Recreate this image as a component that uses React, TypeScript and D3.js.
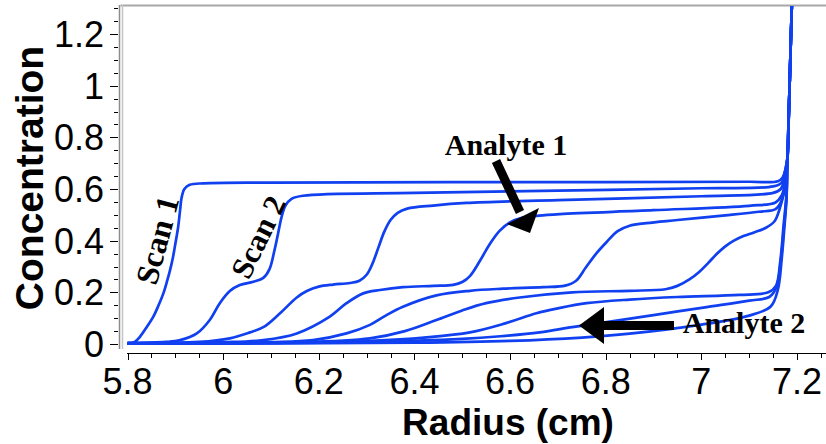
import React from "react";
import * as d3 from "d3";

type Pt = [number, number];

// Scans: [radius (cm), concentration]
const scan1: Pt[] = [[5.800,0.004],[5.815,0.008],[5.826,0.028],[5.840,0.065],[5.854,0.106],[5.865,0.150],[5.875,0.196],[5.883,0.245],[5.889,0.286],[5.895,0.335],[5.899,0.377],[5.906,0.454],[5.910,0.519],[5.913,0.565],[5.919,0.600],[5.930,0.616],[5.960,0.622],[6.100,0.625],[6.800,0.627],[7.100,0.628],[7.160,0.630],[7.170,0.645]];
const scan2: Pt[] = [[5.800,0.004],[5.880,0.008],[5.910,0.015],[5.945,0.041],[5.972,0.093],[5.993,0.158],[6.014,0.205],[6.035,0.228],[6.063,0.241],[6.084,0.256],[6.097,0.290],[6.107,0.360],[6.115,0.429],[6.122,0.490],[6.130,0.535],[6.143,0.562],[6.167,0.574],[6.400,0.585],[6.700,0.594],[7.000,0.603],[7.150,0.610],[7.168,0.625],[7.174,0.660]];
const scan3: Pt[] = [[5.800,0.003],[5.950,0.008],[6.014,0.022],[6.056,0.045],[6.084,0.065],[6.119,0.119],[6.154,0.180],[6.175,0.205],[6.200,0.222],[6.230,0.230],[6.265,0.236],[6.285,0.245],[6.300,0.268],[6.312,0.310],[6.325,0.375],[6.337,0.435],[6.350,0.480],[6.365,0.508],[6.385,0.524],[6.439,0.536],[6.509,0.546],[6.700,0.557],[7.000,0.572],[7.150,0.585],[7.166,0.600],[7.174,0.640]];
const scan4: Pt[] = [[5.800,0.003],[6.000,0.007],[6.084,0.015],[6.154,0.041],[6.223,0.106],[6.258,0.158],[6.293,0.196],[6.328,0.209],[6.376,0.220],[6.440,0.225],[6.481,0.229],[6.500,0.240],[6.516,0.263],[6.537,0.322],[6.558,0.388],[6.578,0.438],[6.599,0.470],[6.625,0.488],[6.660,0.497],[6.704,0.503],[6.900,0.518],[7.100,0.535],[7.155,0.548],[7.168,0.575],[7.175,0.630]];
const scan5: Pt[] = [[5.800,0.002],[6.100,0.007],[6.188,0.015],[6.258,0.041],[6.307,0.074],[6.340,0.110],[6.376,0.144],[6.446,0.188],[6.516,0.206],[6.585,0.214],[6.670,0.220],[6.715,0.226],[6.738,0.245],[6.758,0.295],[6.780,0.350],[6.802,0.395],[6.825,0.437],[6.850,0.458],[6.885,0.468],[6.950,0.480],[7.050,0.498],[7.120,0.512],[7.155,0.522],[7.168,0.555],[7.176,0.620]];
const scan6: Pt[] = [[5.800,0.002],[6.150,0.006],[6.307,0.022],[6.380,0.050],[6.446,0.093],[6.500,0.130],[6.550,0.158],[6.620,0.180],[6.730,0.200],[6.850,0.206],[6.925,0.212],[6.950,0.225],[6.975,0.250],[6.996,0.280],[7.015,0.315],[7.033,0.350],[7.050,0.378],[7.068,0.400],[7.088,0.418],[7.110,0.432],[7.135,0.450],[7.153,0.475],[7.164,0.525],[7.172,0.585],[7.177,0.650]];
const scan7: Pt[] = [[5.800,0.002],[6.200,0.006],[6.307,0.012],[6.420,0.025],[6.516,0.045],[6.590,0.080],[6.655,0.119],[6.700,0.138],[6.760,0.158],[6.850,0.172],[6.950,0.182],[7.080,0.190],[7.140,0.200],[7.156,0.225],[7.165,0.320],[7.172,0.460],[7.178,0.580]];
const scan8: Pt[] = [[5.800,0.001],[6.300,0.008],[6.500,0.020],[6.580,0.030],[6.662,0.045],[6.730,0.065],[6.802,0.085],[6.900,0.112],[7.011,0.143],[7.100,0.168],[7.142,0.182],[7.157,0.220],[7.166,0.320],[7.173,0.460],[7.178,0.570]];
const scan9: Pt[] = [[5.800,0.001],[6.400,0.005],[6.600,0.012],[6.750,0.025],[6.850,0.040],[7.000,0.075],[7.100,0.110],[7.145,0.145],[7.160,0.210],[7.168,0.330],[7.174,0.460],[7.178,0.560]];
// common steep rise at the cell bottom
const wallTail: Pt[] = [[7.180,0.72],[7.183,0.90],[7.186,1.10],[7.189,1.30],[7.191,1.45]];

const scans: Pt[][] = [scan1, scan2, scan3, scan4, scan5, scan6, scan7, scan8, scan9];

const xTicks = [5.8, 6, 6.2, 6.4, 6.6, 6.8, 7, 7.2];
const xTickLabels = ["5.8", "6", "6.2", "6.4", "6.6", "6.8", "7", "7.2"];
const yTicks = [0, 0.2, 0.4, 0.6, 0.8, 1, 1.2];
const yTickLabels = ["0", "0.2", "0.4", "0.6", "0.8", "1", "1.2"];

const W = 826;
const H = 444;
const BLUE = "#1040f0";

export default function App() {
  const x = d3.scaleLinear().domain([5.8, 7.2]).range([127.5, 797]);
  const y = d3.scaleLinear().domain([0, 1.2]).range([344, 34]);
  const line = d3
    .line<Pt>()
    .x((d) => x(d[0]))
    .y((d) => y(d[1]))
    .curve(d3.curveCatmullRom.alpha(0.5));

  const xMinor = d3.range(0, 30).map((i) => 5.8 + i * 0.05).filter((v) => x(v) <= W);
  const yMinor = d3.range(0, 27).map((i) => i * 0.05).filter((v) => y(v) >= 5);

  const plotTop = 5;
  const axisLeft = 119.5;

  return (
    <svg
      width={W}
      height={H}
      style={{ position: "absolute", left: 0, top: 0, background: "#fff" }}
    >
      <defs>
        <clipPath id="plotclip">
          <rect x={axisLeft + 3} y={plotTop + 1} width={W - axisLeft} height={360} />
        </clipPath>
      </defs>
      {/* frame */}
      <line x1={axisLeft + 1} x2={W} y1={plotTop + 0.5} y2={plotTop + 0.5} stroke="#a8a8a8" strokeWidth={2} />
      <line x1={axisLeft} x2={axisLeft} y1={plotTop} y2={349} stroke="#8c8c8c" strokeWidth={1.5} />
      <line x1={axisLeft + 3} x2={axisLeft + 3} y1={plotTop} y2={349} stroke="#c4c4c4" strokeWidth={1.5} />

      {/* y ticks */}
      {yMinor.map((v, i) => (
        <line key={"ym" + i} x1={114} x2={118} y1={Math.round(y(v)) + 0.5} y2={Math.round(y(v)) + 0.5} stroke="#000" strokeWidth={1} />
      ))}
      {yTicks.map((v, i) => (
        <line key={"yM" + i} x1={110} x2={118} y1={Math.round(y(v)) + 0.5} y2={Math.round(y(v)) + 0.5} stroke="#000" strokeWidth={1} />
      ))}
      {yTicks.map((v, i) => (
        <text
          key={"yl" + i}
          x={104}
          y={y(v)}
          dy="0.36em"
          textAnchor="end"
          fontFamily="'Liberation Sans', Arial, sans-serif"
          fontSize={36}
          fill="#000"
        >
          {yTickLabels[i]}
        </text>
      ))}

      {/* x axis */}
      <line x1={127} x2={W} y1={353.5} y2={353.5} stroke="#000" strokeWidth={1.2} />
      {xMinor.map((v, i) => (
        <line key={"xm" + i} x1={Math.round(x(v)) + 0.5} x2={Math.round(x(v)) + 0.5} y1={353} y2={358} stroke="#000" strokeWidth={1} />
      ))}
      {xTicks.map((v, i) => (
        <line key={"xM" + i} x1={Math.round(x(v)) + 0.5} x2={Math.round(x(v)) + 0.5} y1={353} y2={360} stroke="#000" strokeWidth={1} />
      ))}
      {xTicks.map((v, i) => (
        <text
          key={"xl" + i}
          x={x(v)}
          y={394}
          textAnchor="middle"
          fontFamily="'Liberation Sans', Arial, sans-serif"
          fontSize={36}
          fill="#000"
        >
          {xTickLabels[i]}
        </text>
      ))}

      {/* axis titles */}
      <text
        x={508}
        y={435}
        textAnchor="middle"
        fontFamily="'Liberation Sans', Arial, sans-serif"
        fontWeight="bold"
        fontSize={37}
        fill="#000"
      >
        Radius (cm)
      </text>
      <text
        transform="translate(43,178) rotate(-90)"
        textAnchor="middle"
        fontFamily="'Liberation Sans', Arial, sans-serif"
        fontWeight="bold"
        fontSize={39}
        fill="#000"
      >
        Concentration
      </text>

      {/* curves */}
      <g clipPath="url(#plotclip)">
        {scans.map((s, i) => (
          <path
            key={"s" + i}
            d={line(s.concat(wallTail)) || ""}
            fill="none"
            stroke={BLUE}
            strokeWidth={2.7}
            strokeLinejoin="round"
          />
        ))}
      </g>

      {/* annotations */}
      <text
        transform="translate(157,240) rotate(-75)"
        textAnchor="middle"
        dy="0.35em"
        fontFamily="'Liberation Serif', 'Times New Roman', serif"
        fontWeight="bold"
        fontSize={32}
        fill="#000"
      >
        Scan 1
      </text>
      <text
        transform="translate(258,237) rotate(-64)"
        textAnchor="middle"
        dy="0.35em"
        fontFamily="'Liberation Serif', 'Times New Roman', serif"
        fontWeight="bold"
        fontSize={31}
        fill="#000"
      >
        Scan 2
      </text>
      <text
        x={506}
        y={155}
        textAnchor="middle"
        fontFamily="'Liberation Serif', 'Times New Roman', serif"
        fontWeight="bold"
        fontSize={30}
        fill="#000"
      >
        Analyte 1
      </text>
      <text
        x={744}
        y={333}
        textAnchor="middle"
        fontFamily="'Liberation Serif', 'Times New Roman', serif"
        fontWeight="bold"
        fontSize={30}
        fill="#000"
      >
        Analyte 2
      </text>

      {/* arrow to Analyte 1 */}
      <line x1={496} y1={161} x2={520} y2={212} stroke="#000" strokeWidth={9} />
      <polygon points="507,224 539,208 530,233" fill="#000" />
      {/* arrow to Analyte 2 */}
      <rect x={600} y={321} width={74} height={9} fill="#000" />
      <polygon points="579,325.5 604,307 604,344" fill="#000" />
    </svg>
  );
}
